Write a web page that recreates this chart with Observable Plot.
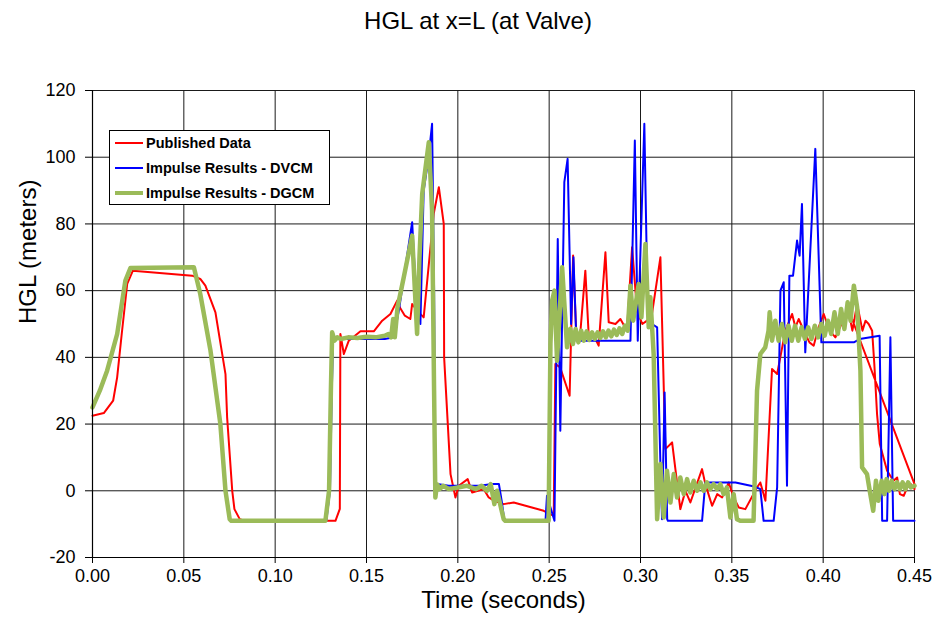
<!DOCTYPE html>
<html>
<head>
<meta charset="utf-8">
<script src="https://cdn.jsdelivr.net/npm/d3@7"></script>
<script src="https://cdn.jsdelivr.net/npm/@observablehq/plot@0.6"></script>
<style>
  html, body { margin: 0; padding: 0; background: #fff; }
  #wrap { position: relative; width: 939px; height: 622px; font-family: "Liberation Sans", Arial, sans-serif; }
  #title { position: absolute; left: 0; top: 7px; width: 956px; text-align: center; font-size: 24px; color: #000; }
  #chart { position: absolute; left: 0; top: 50px; }
  #legend { position: absolute; left: 109px; top: 130px; width: 221px; height: 75px; border: 1px solid #000; background: #fff; box-sizing: border-box; }
  .row { position: absolute; left: 5px; height: 20px; display: flex; align-items: center; font-weight: bold; font-size: 14.5px; }
  .sw { width: 28px; margin-right: 3px; }
</style>
</head>
<body>
<div id="wrap">
  <div id="title">HGL at x=L (at Valve)</div>
  <div id="chart"></div>
  <div id="legend"></div>
</div>
<script>
const xTicks = [0, 0.05, 0.10, 0.15, 0.20, 0.25, 0.30, 0.35, 0.40, 0.45];
const yTicks = [-20, 0, 20, 40, 60, 80, 100, 120];
const seriesNames = ["Published Data", "Impulse Results - DVCM", "Impulse Results - DGCM"];

const publishedData = [
[0.0000,22.5],[0.0062,23.3],[0.0113,27],[0.0135,34],[0.0160,47],[0.0190,62],[0.0221,66],[0.0546,64.5],[0.0590,63.5],[0.0618,61.5],[0.0673,53.5],[0.0728,35],[0.0737,22],[0.0765,0],[0.0777,-5.5],[0.0806,-8.5],[0.0830,-9],[0.1330,-9],[0.1354,-5.4],[0.1357,47],[0.1376,41],[0.1403,45],[0.1467,47.8],[0.1540,47.8],[0.1586,51],[0.1631,53],[0.1668,57],[0.1682,55],[0.1710,52.5],[0.1740,51.5],[0.1750,56],[0.1777,54],[0.1813,52],[0.1868,83],[0.1896,91],[0.1923,80],[0.1925,40],[0.1960,5],[0.1987,-2],[0.2005,1.5],[0.2054,3.5],[0.2078,-0.5],[0.2142,0.5],[0.2169,-2],[0.2200,-3],[0.2251,-4],[0.2306,-3.5],[0.2470,-6],[0.2525,-7.5],[0.2534,38],[0.2560,37],[0.2612,28.5],[0.2631,70.5],[0.2649,46],[0.2670,47],[0.2698,66],[0.2717,46],[0.2740,47],[0.2771,43.5],[0.2808,71.5],[0.2826,50.5],[0.2863,50],[0.2890,51.5],[0.2926,48],[0.2954,73],[0.2981,54],[0.3010,50],[0.3036,51],[0.3060,52],[0.3109,70],[0.3136,12.5],[0.3173,14.5],[0.3218,-5.5],[0.3246,0],[0.3273,-3.5],[0.3337,6.5],[0.3355,2],[0.3392,-4.5],[0.3420,-1],[0.3447,-2],[0.3483,2.5],[0.3510,-2],[0.3538,-5],[0.3574,-5.5],[0.3638,1],[0.3656,2.5],[0.3684,-3],[0.3720,36.5],[0.3748,35],[0.3793,48],[0.3830,53],[0.3848,49],[0.3866,51.5],[0.3902,47],[0.3925,44.5],[0.3948,43.5],[0.3975,49],[0.4003,53],[0.4035,48],[0.4067,46],[0.4100,50],[0.4120,51],[0.4140,53.5],[0.4160,48],[0.4186,56],[0.4215,48],[0.4232,51],[0.4249,50],[0.4268,48],[0.4280,38],[0.4295,23],[0.4310,14],[0.4350,6],[0.4385,3],[0.4405,4],[0.4420,-1],[0.4441,-1.5],[0.4460,1],[0.4480,2],[0.4500,0.5],[0.4500,2],[0.4158,51.5]
];

const dvcmData = [
[0.0000,25],[0.0040,30],[0.0080,36],[0.0135,47],[0.0180,63],[0.0208,66.8],[0.0555,67],[0.0590,59],[0.0646,42],[0.0700,20],[0.0728,0],[0.0751,-8.5],[0.0760,-9],[0.1280,-9],[0.1300,0],[0.1310,30],[0.1318,47],[0.1330,45.5],[0.1400,45.5],[0.1500,45.5],[0.1600,45.5],[0.1650,46],[0.1680,55],[0.1704,64],[0.1750,80.5],[0.1765,65],[0.1795,50],[0.1813,90],[0.1840,100],[0.1859,110],[0.1870,60],[0.1877,-2],[0.1886,2],[0.1950,1.5],[0.2050,1.5],[0.2120,1.5],[0.2188,2],[0.2225,2],[0.2240,-3],[0.2255,-9],[0.2480,-9],[0.2488,-1.5],[0.2529,-9],[0.2547,75.5],[0.2561,18],[0.2583,92.5],[0.2601,99.5],[0.2620,50],[0.2633,70],[0.2649,45],[0.2735,45],[0.2945,45],[0.2969,105],[0.2985,45],[0.3021,110],[0.3040,52],[0.3063,50],[0.3091,49],[0.3109,8],[0.3118,-8.5],[0.3132,29.5],[0.3146,-8.5],[0.3150,-9],[0.3337,-9],[0.3355,2.5],[0.3520,2.5],[0.3629,1.2],[0.3656,0.5],[0.3674,-9],[0.3729,-9],[0.3748,1],[0.3766,60],[0.3784,62.5],[0.3802,1.5],[0.3815,64.5],[0.3835,64.5],[0.3857,75],[0.3871,70.5],[0.3884,86],[0.3902,41.5],[0.3957,102.5],[0.3990,44.5],[0.4168,44.5],[0.4200,45.5],[0.4309,46.5],[0.4323,-9],[0.4350,-9],[0.4368,46],[0.4383,-9],[0.4500,-9]
];

const dgcmData = [
[0.0000,25],[0.0040,30],[0.0080,36],[0.0135,47],[0.0180,63],[0.0208,66.8],[0.0555,67],[0.0590,59],[0.0646,42],[0.0700,20],[0.0728,0],[0.0751,-8.5],[0.0760,-9],[0.1275,-9],[0.1295,0],[0.1305,30],[0.1312,47.5],[0.1325,45],[0.1340,46],[0.1360,45.5],[0.1400,46],[0.1450,45.8],[0.1500,46.2],[0.1550,46],[0.1600,46.5],[0.1620,47],[0.1635,46],[0.1646,51.5],[0.1655,46],[0.1670,55],[0.1704,64],[0.1750,76.5],[0.1765,60],[0.1777,47],[0.1790,70],[0.1805,89],[0.1841,104.5],[0.1859,84],[0.1870,30],[0.1877,-2],[0.1886,2],[0.1900,0.5],[0.1920,1.5],[0.1950,0.5],[0.2000,1],[0.2050,1.5],[0.2100,0.5],[0.2130,1.5],[0.2160,0],[0.2180,2],[0.2200,-4],[0.2215,0],[0.2240,-6],[0.2251,-8.5],[0.2260,-9],[0.2497,-9],[0.2507,44],[0.2516,57],[0.2529,60],[0.2543,39],[0.2571,67],[0.2598,43],[0.2616,48.6],[0.2630,44],[0.2645,48.5],[0.2660,44.5],[0.2675,48],[0.2690,45],[0.2705,47.8],[0.2720,45.2],[0.2735,47.5],[0.2750,45.5],[0.2765,47.5],[0.2780,45.8],[0.2795,47.8],[0.2810,46],[0.2825,48],[0.2840,46.3],[0.2855,48.3],[0.2870,46.7],[0.2885,48.7],[0.2900,47],[0.2915,49.5],[0.2930,48],[0.2945,61.5],[0.2960,51],[0.2990,62],[0.3005,52],[0.3027,74],[0.3045,49],[0.3054,58],[0.3072,41],[0.3091,-8.5],[0.3109,8],[0.3127,-8],[0.3145,6],[0.3164,-3.5],[0.3182,5],[0.3200,-2],[0.3218,4],[0.3237,-1],[0.3255,3.5],[0.3273,-0.5],[0.3291,3],[0.3310,0],[0.3328,2.5],[0.3346,0],[0.3364,2.5],[0.3382,0.5],[0.3400,2],[0.3419,0.5],[0.3437,2],[0.3455,-1],[0.3473,1],[0.3492,-8],[0.3510,-1],[0.3528,-8.5],[0.3546,-9],[0.3619,-9],[0.3638,30],[0.3656,41],[0.3683,43],[0.3701,48],[0.3707,53.5],[0.3720,45],[0.3738,51],[0.3756,45],[0.3774,50],[0.3792,44.5],[0.3810,49.5],[0.3828,45],[0.3846,49.5],[0.3864,45],[0.3882,49],[0.3900,45.5],[0.3918,49],[0.3936,45.5],[0.3954,49.5],[0.3972,46],[0.3990,50],[0.4008,46.5],[0.4026,51],[0.4044,47],[0.4062,53.5],[0.4080,47],[0.4098,54.5],[0.4116,48.5],[0.4134,56.5],[0.4150,51],[0.4168,61.5],[0.4186,55],[0.4204,36],[0.4213,7],[0.4240,5],[0.4258,-1],[0.4274,-6],[0.4289,3],[0.4302,-3],[0.4320,3],[0.4335,-1],[0.4347,3.5],[0.4360,0],[0.4375,3],[0.4390,0.5],[0.4405,2.5],[0.4420,0.5],[0.4435,2.5],[0.4450,0.5],[0.4465,2.5],[0.4480,1],[0.4500,1.5]
];

const colors = ["#ff0000", "#0000ff", "#9bbb59"];
const widths = [2, 2, 4.5];

const toObj = d => d.map(([t, v]) => ({t, v}));
const series = [publishedData, dvcmData, dgcmData].map(toObj);

const chart = Plot.plot({
  width: 939,
  height: 572,
  marginLeft: 92,
  marginRight: 25,
  marginTop: 40,
  marginBottom: 65,
  style: {fontFamily: "'Liberation Sans', Arial, sans-serif", fontSize: "18px", background: "white", color: "black", overflow: "visible"},
  x: {domain: [0, 0.45]},
  y: {domain: [-20, 120]},
  marks: [
    Plot.ruleY(yTicks, {stroke: "#1a1a1a", strokeWidth: 1}),
    Plot.ruleX(xTicks, {stroke: "#1a1a1a", strokeWidth: 1}),
    ...series.map((s, i) => Plot.line(s, {x: "t", y: "v", stroke: colors[i], strokeWidth: widths[i], strokeLinejoin: "round", curve: "linear"})),
    Plot.ruleY([-20], {stroke: "#000", strokeWidth: 1.2}),
    Plot.ruleX([0], {stroke: "#000", strokeWidth: 1.2}),
    Plot.axisX({ticks: xTicks, tickSize: 6, tickPadding: 6, tickFormat: d => d.toFixed(2), label: null, fontSize: 18}),
    Plot.axisY({ticks: yTicks, tickSize: 7, tickPadding: 10, tickFormat: d => String(d), label: null, fontSize: 18}),
    Plot.text(["Time (seconds)"], {frameAnchor: "bottom", dy: 50, fontSize: 24}),
    Plot.text(["HGL (meters)"], {frameAnchor: "left", dx: -64, rotate: -90, fontSize: 24})
  ]
});
document.getElementById("chart").appendChild(chart);

const legend = document.getElementById("legend");
seriesNames.forEach((name, i) => {
  const row = document.createElement("div");
  row.className = "row";
  row.style.top = (2 + i * 25) + "px";
  const sw = document.createElement("div");
  sw.className = "sw";
  sw.style.height = widths[i] + "px";
  sw.style.background = colors[i];
  const label = document.createElement("span");
  label.textContent = name;
  row.appendChild(sw);
  row.appendChild(label);
  legend.appendChild(row);
});
</script>
</body>
</html>
